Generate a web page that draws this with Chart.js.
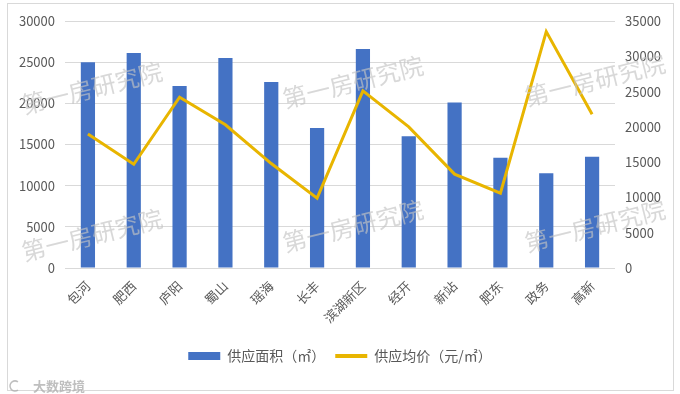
<!DOCTYPE html>
<html>
<head>
<meta charset="utf-8">
<script src="https://cdn.jsdelivr.net/npm/chart.js@4/dist/chart.umd.min.js"></script>
<style>
html,body{margin:0;padding:0;background:#fff;}
#wrap{width:680px;height:394px;position:relative;}
</style>
</head>
<body>
<div id="wrap"><canvas id="c" width="680" height="394"></canvas></div>
<script>
const categories = ['包河','肥西','庐阳','蜀山','瑶海','长丰','滨湖新区','经开','新站','肥东','政务','高新'];
const supplyArea = [25000,26100,22100,25500,22600,17000,26600,16000,20100,13400,11500,13500];
const avgPrice = [19000,14700,24200,20300,14800,9900,25100,20000,13300,10600,33500,21800];
const seriesNames = ['供应面积（㎡）','供应均价（元/㎡）'];
const leftAxis = {min:0, max:30000, step:5000};
const rightAxis = {min:0, max:35000, step:5000};

const FONT = "'Noto Sans CJK SC', 'Noto Sans', sans-serif";
const TXT = '#595959';

const framePlugin = {
  id:'frame',
  beforeDraw(chart){
    const ctx = chart.ctx;
    ctx.save();
    ctx.fillStyle = '#fff';
    ctx.fillRect(0,0,chart.width,chart.height);
    ctx.strokeStyle = '#d9d9d9';
    ctx.lineWidth = 1;
    ctx.strokeRect(7.5,3.5,666,387);
    ctx.restore();
  }
};

const watermarkPlugin = {
  id:'watermark',
  afterDatasetsDraw(chart){
    const ctx = chart.ctx;
    const marks = [[92,88],[353,82],[595,80],[92,235],[353,226],[595,226]];
    ctx.save();
    ctx.font = "24px " + FONT;
    ctx.fillStyle = 'rgba(195,195,195,0.65)';
    ctx.textAlign = 'center';
    ctx.textBaseline = 'middle';
    marks.forEach(([x,y])=>{
      ctx.save();
      ctx.translate(x,y);
      ctx.rotate(-14*Math.PI/180);
      ctx.fillText('第一房研究院',0,0);
      ctx.restore();
    });
    ctx.font = "bold 13px " + FONT;
    ctx.textAlign = 'left';
    ctx.fillStyle = 'rgba(175,175,175,0.8)';
    ctx.fillText('大数跨境',33,386);
    ctx.strokeStyle = 'rgba(175,175,175,0.8)';
    ctx.lineWidth = 1.5;
    ctx.beginPath();
    ctx.arc(15,386,5,0.3*Math.PI,1.7*Math.PI);
    ctx.stroke();
    ctx.restore();
  }
};

const plain = v => String(v);

new Chart(document.getElementById('c'), {
  data: {
    labels: categories,
    datasets: [
      {
        type:'line',
        label: seriesNames[1],
        data: avgPrice,
        yAxisID:'y1',
        borderColor:'#E8B500',
        backgroundColor:'#E8B500',
        borderWidth:3,
        pointRadius:0,
        tension:0,
        order:0
      },
      {
        type:'bar',
        label: seriesNames[0],
        data: supplyArea,
        yAxisID:'y',
        backgroundColor:'#4472C4',
        borderWidth:0,
        barPercentage:0.31,
        categoryPercentage:1.0,
        order:1
      }
    ]
  },
  options: {
    responsive:false,
    animation:false,
    devicePixelRatio:1,
    layout:{padding:{top:21,left:0,right:0,bottom:21}},
    plugins:{
      tooltip:{enabled:false},
      legend:{
        position:'bottom',
        labels:{
          font:{size:14,family:FONT},
          color:TXT,
          usePointStyle:true,
          pointStyleWidth:32,
          boxHeight:8,
          boxWidth:32,
          padding:10,
          sort:(a,b)=>b.datasetIndex-a.datasetIndex,
          generateLabels(chart){
            const items = Chart.defaults.plugins.legend.labels.generateLabels(chart);
            items.forEach(it=>{
              const ds = chart.data.datasets[it.datasetIndex];
              if(ds.type==='line'){ it.pointStyle='line'; it.lineWidth=4; it.strokeStyle=ds.borderColor; }
              else { it.pointStyle='rect'; it.lineWidth=0; }
            });
            return items;
          }
        }
      }
    },
    scales:{
      x:{
        grid:{display:false},
        border:{display:false},
        ticks:{
          color:TXT,
          font:{size:13,family:FONT},
          minRotation:45,
          maxRotation:45,
          padding:2
        },
        afterFit(s){ s.height = 71; }
      },
      y:{
        position:'left',
        min:leftAxis.min,
        max:leftAxis.max,
        border:{display:false},
        grid:{color:'#d9d9d9',drawTicks:false},
        ticks:{
          stepSize:leftAxis.step,
          color:TXT,
          font:{size:13,family:FONT},
          padding:10,
          callback:plain
        },
        afterFit(s){ s.width = 65; }
      },
      y1:{
        position:'right',
        min:rightAxis.min,
        max:rightAxis.max,
        border:{display:false},
        grid:{drawOnChartArea:false,drawTicks:false},
        ticks:{
          stepSize:rightAxis.step,
          color:TXT,
          font:{size:13,family:FONT},
          padding:10,
          callback:plain
        },
        afterFit(s){ s.width = 65; }
      }
    }
  },
  plugins:[framePlugin, watermarkPlugin]
});
</script>
</body>
</html>
